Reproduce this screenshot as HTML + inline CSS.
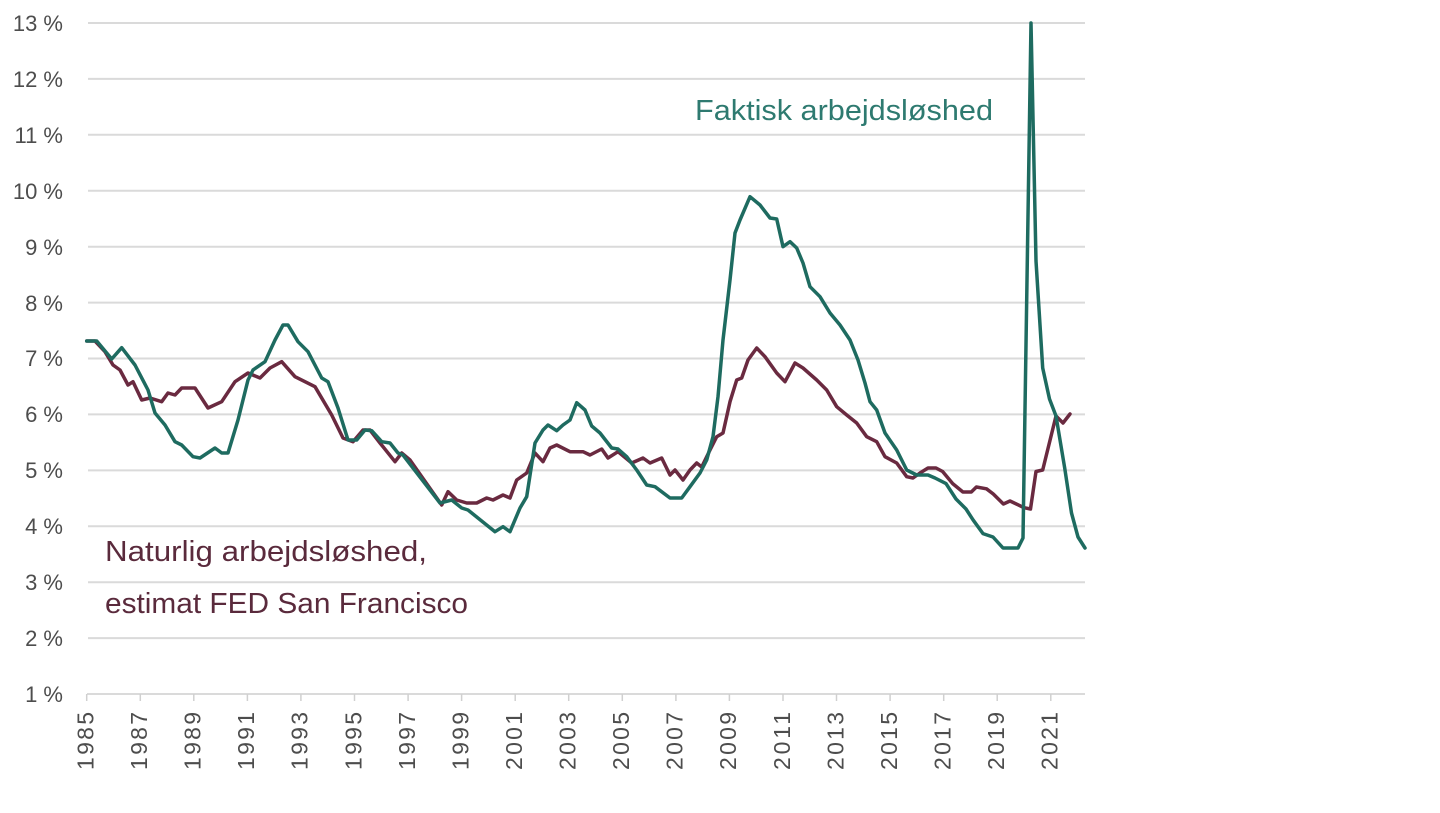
<!DOCTYPE html>
<html>
<head>
<meta charset="utf-8">
<style>
  html,body{margin:0;padding:0;background:#ffffff;}
  svg{display:block;}
  text{font-family:"Liberation Sans", sans-serif;}
</style>
</head>
<body>
<svg width="1440" height="813" viewBox="0 0 1440 813" xmlns="http://www.w3.org/2000/svg">
  <rect width="1440" height="813" fill="#ffffff"/>
  <!-- gridlines -->
  <g stroke="#dadada" stroke-width="2">
    <line x1="88" y1="23" x2="1085" y2="23"/>
    <line x1="88" y1="78.9" x2="1085" y2="78.9"/>
    <line x1="88" y1="134.8" x2="1085" y2="134.8"/>
    <line x1="88" y1="190.8" x2="1085" y2="190.8"/>
    <line x1="88" y1="246.7" x2="1085" y2="246.7"/>
    <line x1="88" y1="302.6" x2="1085" y2="302.6"/>
    <line x1="88" y1="358.5" x2="1085" y2="358.5"/>
    <line x1="88" y1="414.4" x2="1085" y2="414.4"/>
    <line x1="88" y1="470.4" x2="1085" y2="470.4"/>
    <line x1="88" y1="526.3" x2="1085" y2="526.3"/>
    <line x1="88" y1="582.2" x2="1085" y2="582.2"/>
    <line x1="88" y1="638.1" x2="1085" y2="638.1"/>
    <line x1="87" y1="694" x2="1085" y2="694"/>
  </g>
  <!-- ticks -->
  <g stroke="#d0d0d0" stroke-width="1.5">
    <line x1="86.7" y1="694" x2="86.7" y2="701"/>
    <line x1="140.3" y1="694" x2="140.3" y2="701"/>
    <line x1="193.8" y1="694" x2="193.8" y2="701"/>
    <line x1="247.4" y1="694" x2="247.4" y2="701"/>
    <line x1="300.9" y1="694" x2="300.9" y2="701"/>
    <line x1="354.5" y1="694" x2="354.5" y2="701"/>
    <line x1="408.1" y1="694" x2="408.1" y2="701"/>
    <line x1="461.6" y1="694" x2="461.6" y2="701"/>
    <line x1="515.2" y1="694" x2="515.2" y2="701"/>
    <line x1="568.7" y1="694" x2="568.7" y2="701"/>
    <line x1="622.3" y1="694" x2="622.3" y2="701"/>
    <line x1="675.9" y1="694" x2="675.9" y2="701"/>
    <line x1="729.4" y1="694" x2="729.4" y2="701"/>
    <line x1="783.0" y1="694" x2="783.0" y2="701"/>
    <line x1="836.5" y1="694" x2="836.5" y2="701"/>
    <line x1="890.1" y1="694" x2="890.1" y2="701"/>
    <line x1="943.7" y1="694" x2="943.7" y2="701"/>
    <line x1="997.2" y1="694" x2="997.2" y2="701"/>
    <line x1="1050.8" y1="694" x2="1050.8" y2="701"/>
  </g>
  <!-- y labels -->
  <g font-size="22" fill="#4d4d4d" text-anchor="end">
    <text x="63" y="31">13 %</text>
    <text x="63" y="87">12 %</text>
    <text x="63" y="143">11 %</text>
    <text x="63" y="199">10 %</text>
    <text x="63" y="255">9 %</text>
    <text x="63" y="311">8 %</text>
    <text x="63" y="366">7 %</text>
    <text x="63" y="422">6 %</text>
    <text x="63" y="478">5 %</text>
    <text x="63" y="534">4 %</text>
    <text x="63" y="590">3 %</text>
    <text x="63" y="646">2 %</text>
    <text x="63" y="702">1 %</text>
  </g>
  <!-- x labels -->
  <g font-size="23" fill="#4d4d4d" text-anchor="end">
    <text transform="translate(93.5,712) rotate(-90)" textLength="58" lengthAdjust="spacing">1985</text>
    <text transform="translate(147.1,712) rotate(-90)" textLength="58" lengthAdjust="spacing">1987</text>
    <text transform="translate(200.6,712) rotate(-90)" textLength="58" lengthAdjust="spacing">1989</text>
    <text transform="translate(254.2,712) rotate(-90)" textLength="58" lengthAdjust="spacing">1991</text>
    <text transform="translate(307.7,712) rotate(-90)" textLength="58" lengthAdjust="spacing">1993</text>
    <text transform="translate(361.3,712) rotate(-90)" textLength="58" lengthAdjust="spacing">1995</text>
    <text transform="translate(414.9,712) rotate(-90)" textLength="58" lengthAdjust="spacing">1997</text>
    <text transform="translate(468.4,712) rotate(-90)" textLength="58" lengthAdjust="spacing">1999</text>
    <text transform="translate(522.0,712) rotate(-90)" textLength="58" lengthAdjust="spacing">2001</text>
    <text transform="translate(575.5,712) rotate(-90)" textLength="58" lengthAdjust="spacing">2003</text>
    <text transform="translate(629.1,712) rotate(-90)" textLength="58" lengthAdjust="spacing">2005</text>
    <text transform="translate(682.7,712) rotate(-90)" textLength="58" lengthAdjust="spacing">2007</text>
    <text transform="translate(736.2,712) rotate(-90)" textLength="58" lengthAdjust="spacing">2009</text>
    <text transform="translate(789.8,712) rotate(-90)" textLength="58" lengthAdjust="spacing">2011</text>
    <text transform="translate(843.3,712) rotate(-90)" textLength="58" lengthAdjust="spacing">2013</text>
    <text transform="translate(896.9,712) rotate(-90)" textLength="58" lengthAdjust="spacing">2015</text>
    <text transform="translate(950.5,712) rotate(-90)" textLength="58" lengthAdjust="spacing">2017</text>
    <text transform="translate(1004.0,712) rotate(-90)" textLength="58" lengthAdjust="spacing">2019</text>
    <text transform="translate(1057.6,712) rotate(-90)" textLength="58" lengthAdjust="spacing">2021</text>
  </g>
  <!-- natural unemployment (maroon) -->
  <polyline fill="none" stroke="#6a2a40" stroke-width="3.5" stroke-linejoin="round" stroke-linecap="round" points="
86.7,341 95,341 105,351.7 113,365 120,370 128,385 133,381.7 141.7,400 150,398 161.7,401.7 168,393 175,395 181.7,388 195,388 208,408 221.7,401.7 235,381.7 248,373 260,378 270,368 281.7,361.7 295,376.7 305,381.7 315,386.7 331.7,415 343,438 353,441.7 363,430 370,430 380,443 395,461.7 401.7,453 410,460 441.7,505 448,491.7 456.7,500 466.7,503 476.7,503 486.7,498 493,500 503,495 510,498 516.7,480 526.7,473 535,453 543,461.7 550,448 556.7,445 570,451.7 583,451.7 590,455 601.7,449 608,458 618,451.7 631.7,463 643,458 650,463 661.7,458 670,475 675,470 683,480 690,470 696.7,463 701.7,467 710,450 716.7,436.7 723,433 730,401.7 736.7,380 741.7,378 748,360 756.7,348 765,356.7 776.7,373 785,381.7 795,363 803,368 816.7,380 826.7,390 836.7,406.7 846.7,415 856.7,423 866.7,436.7 876.7,441.7 885,456.7 896.7,463 906.7,476.7 913,478 920,473 928,468 936,468 942.6,471.5 952.7,483.6 962.9,492 971.3,492 976.4,487 986.5,488.8 993.3,494 1003.4,504 1010,501 1024,507.7 1030.5,509 1036,471.5 1042.7,470 1056,416 1063,423 1070,414"/>
  <!-- actual unemployment (teal) -->
  <polyline fill="none" stroke="#1e6b60" stroke-width="3.5" stroke-linejoin="round" stroke-linecap="round" points="
86.7,341 96.7,341 111.7,359 121.7,347.7 135,365 148,390 155,413 165,425 175,441.7 181.7,445 193,456.7 200,458 215,448 221.7,453 228,453 238,420 248,380 253,370 265,361.7 275,340 283,325 288,325 298,341.7 308,351.7 321.7,378 328,381.7 338,408 348,440 356.7,440 365,430 371.7,430.7 381.7,441.7 390,443 398,453 403,455 440,503 451.7,500 461.7,508 468,510 495,531.7 503,526.7 510,531.7 520,508 526.7,496.7 535,443 543,430 548,425 556.7,430.7 563,425 570,420 576.7,402.7 585,410 591.7,426 600,433 611.7,448 618,449 626.7,456.7 636.7,470 646.7,485 655,486.7 670,498 681.7,498 690,486.7 700,473 706.7,460 713,436.7 718,396.7 723,340 730,280 735,233 740,220 750,196.7 760,205 770,218 776.7,219 783,246.7 790,241.7 796.7,248 803,263 810,286.7 820,296.7 830,313 840,325 850,340 858,360 865,383 870,401.7 876.7,410 885,433 896.7,450 906.7,470 916.7,475 928,475 935,478 946,483.6 956,499 966,509 973,519.8 983,533.6 993,537 1003,548 1018,548 1023,538 1031,23 1036,261 1042.7,368 1049.5,399 1056,416 1064.7,468 1071.5,513 1078,537 1085,548"/>
  <!-- annotations -->
  <text x="695" y="120" font-size="29" fill="#2e7a70" textLength="298" lengthAdjust="spacingAndGlyphs">Faktisk arbejdsløshed</text>
  <text x="105" y="561" font-size="29" fill="#5a2a3c" textLength="322" lengthAdjust="spacingAndGlyphs">Naturlig arbejdsløshed,</text>
  <text x="105" y="613" font-size="29" fill="#5a2a3c" textLength="363" lengthAdjust="spacingAndGlyphs">estimat FED San Francisco</text>
</svg>
</body>
</html>
